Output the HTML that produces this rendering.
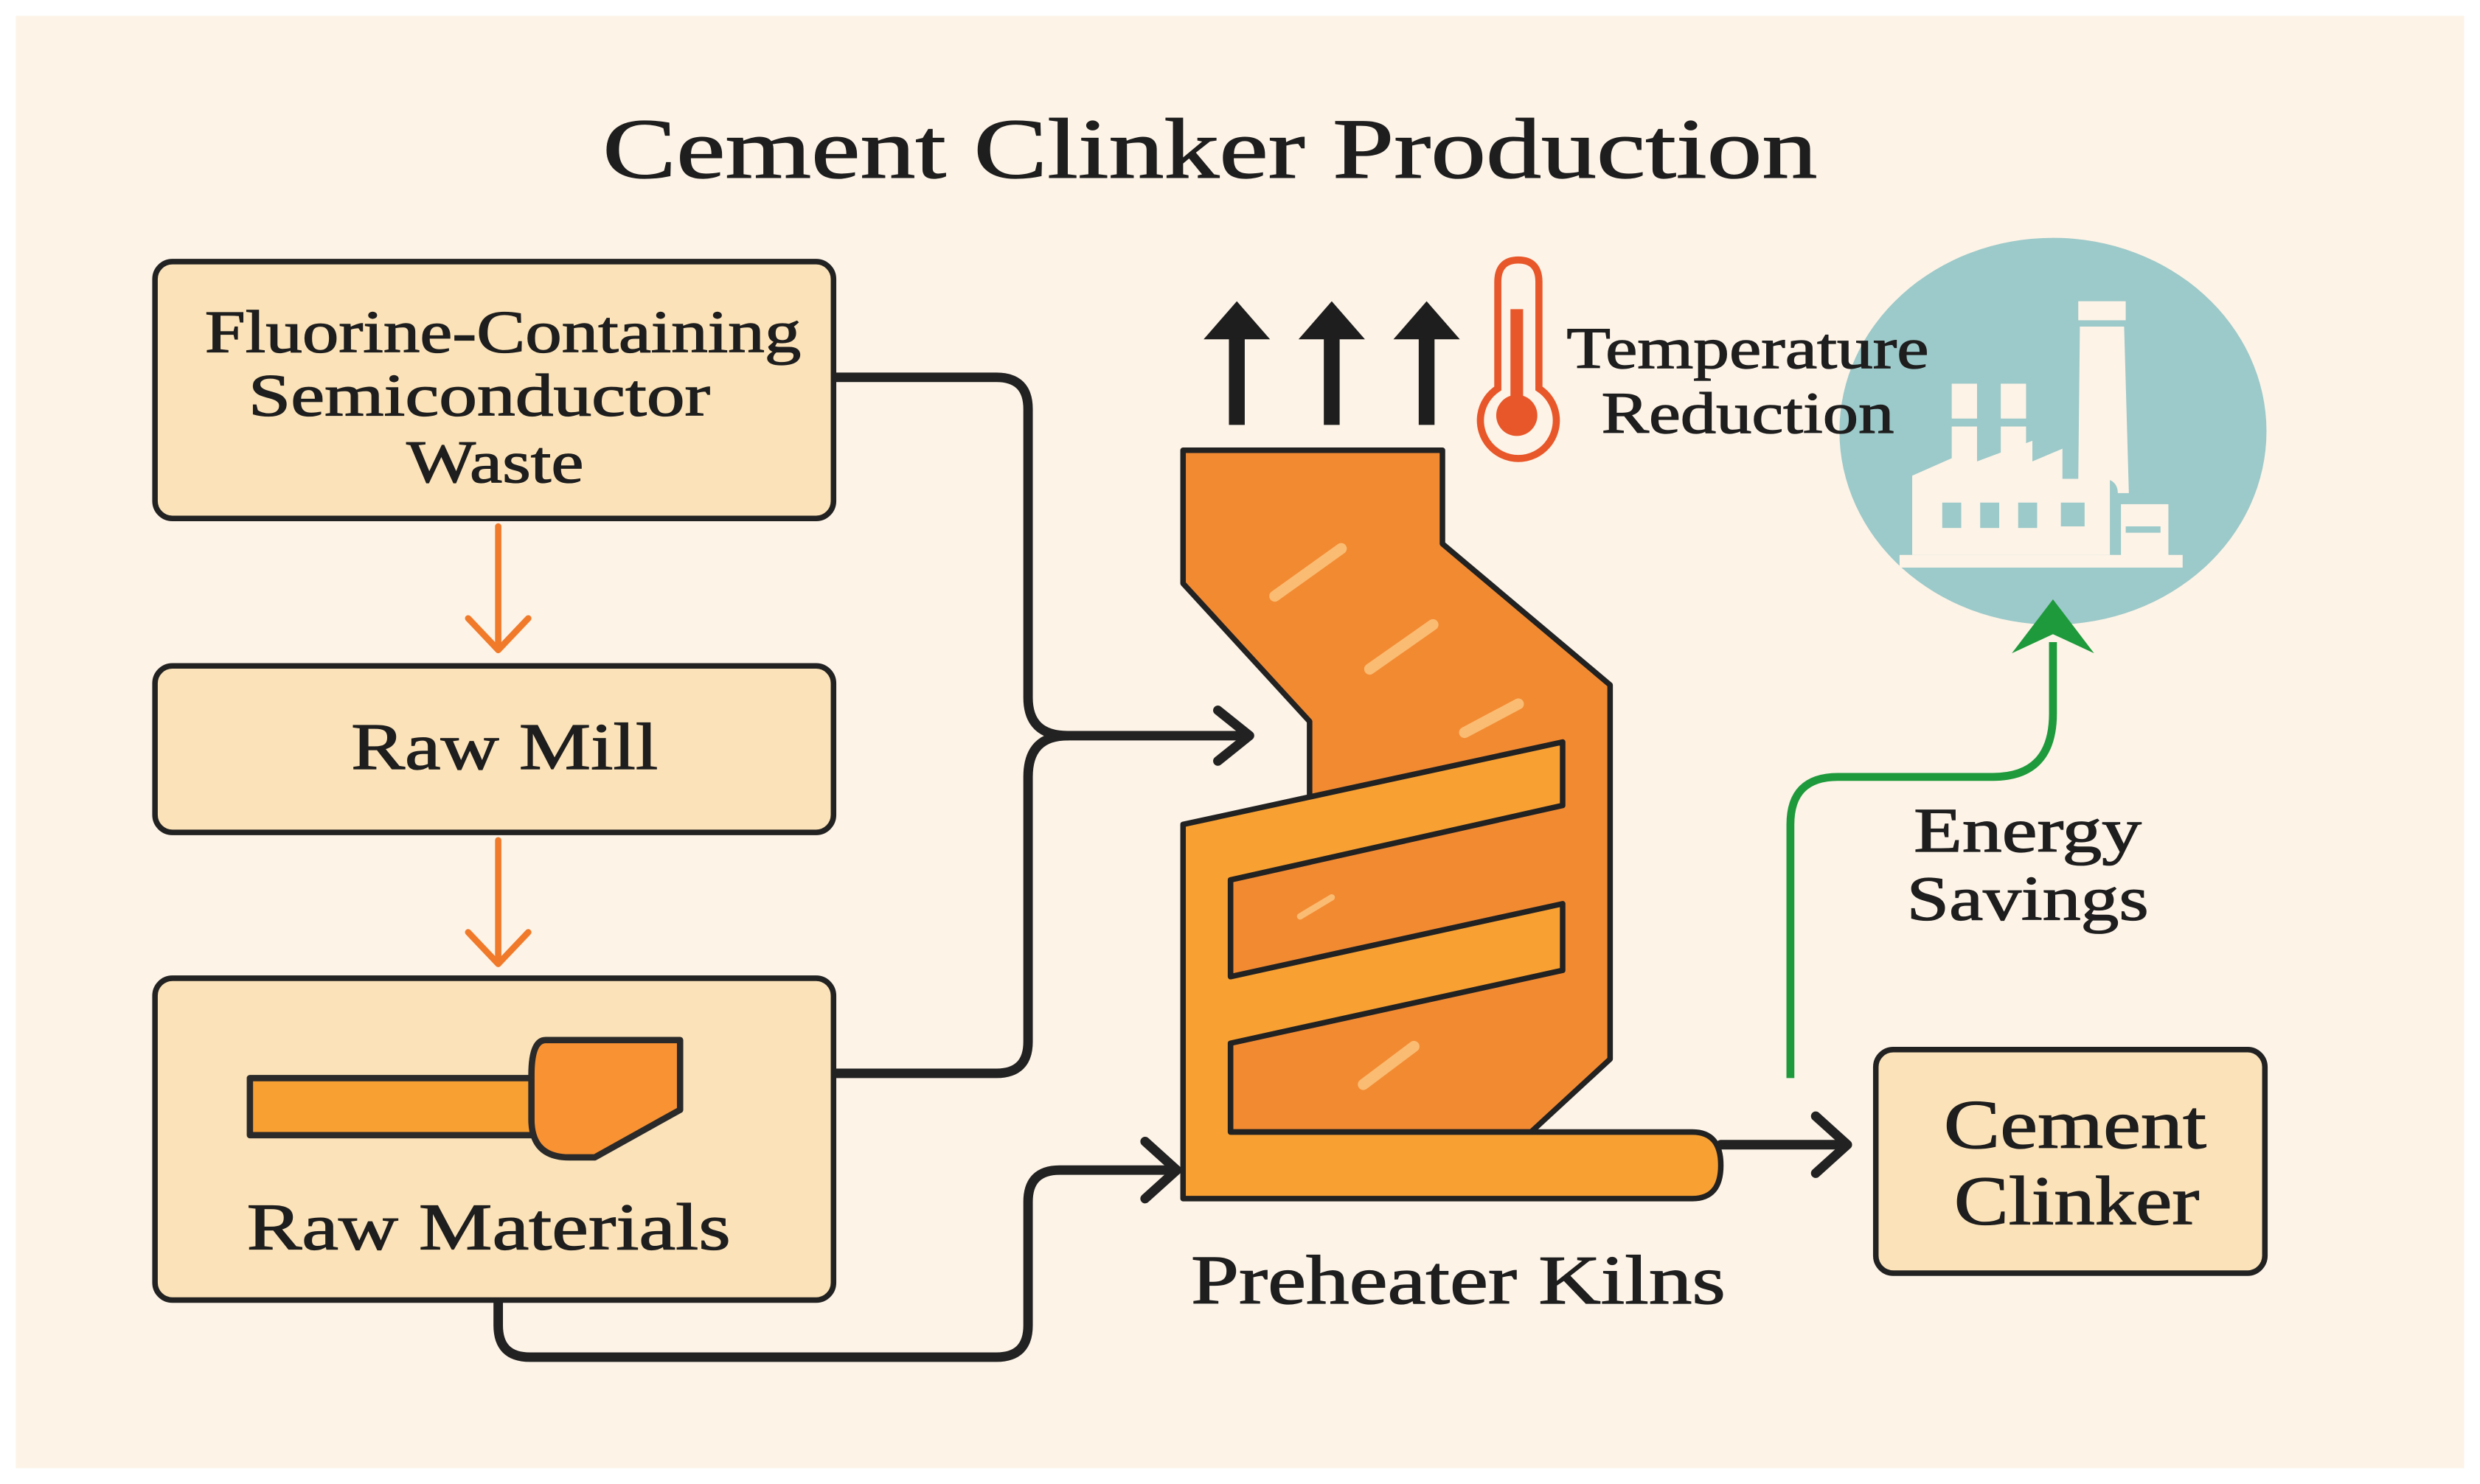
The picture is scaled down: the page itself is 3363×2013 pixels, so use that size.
<!DOCTYPE html>
<html><head><meta charset="utf-8"><style>html,body{margin:0;padding:0;background:#fff}svg{display:block}</style></head>
<body>
<svg width="3363" height="2013" viewBox="0 0 1568 936" preserveAspectRatio="none" xmlns="http://www.w3.org/2000/svg" font-family="'Liberation Serif', serif" fill="#1e1e1e">
<rect x="0" y="0" width="1568" height="936" fill="#ffffff"/>
<rect x="10" y="10" width="1548" height="916" fill="#fdf3e7"/>

<!-- circle with factory -->
<ellipse cx="1298" cy="272" rx="135" ry="122" fill="#9cc9c9"/>
<g fill="#fdf3e7">
<rect x="1201" y="350" width="179" height="8"/>
<path d="M1209,350 V300 L1250,282 V291 L1285,278 V291 L1304,283 V302 L1334,302 V350 Z"/>
<rect x="1234" y="242" width="16" height="22"/><rect x="1234" y="269" width="16" height="22"/>
<rect x="1265" y="242" width="16" height="22"/><rect x="1265" y="269" width="16" height="22"/>
<rect x="1314" y="190" width="30" height="12"/>
<path d="M1315,206 H1343 L1346,311 H1339 Q1339,304 1332,302 H1314 Z"/>
<rect x="1341" y="318" width="30" height="34"/>
</g>
<g fill="#9cc9c9">
<rect x="1228" y="317" width="12" height="16"/><rect x="1252" y="317" width="12" height="16"/><rect x="1276" y="317" width="12" height="16"/><rect x="1303" y="317" width="15" height="15"/>
<rect x="1344" y="332" width="22" height="4"/>
</g>

<text x="765" y="112" font-size="54" text-anchor="middle" textLength="768" lengthAdjust="spacingAndGlyphs" stroke="#1e1e1e" stroke-width="0.6">Cement Clinker Production</text>

<!-- connectors (black) -->
<g fill="none" stroke="#222" stroke-width="6" stroke-linecap="round" stroke-linejoin="round">
<path d="M527,238 H630 Q650,238 650,258 V440 Q650,464 675,464 H788"/>
<path d="M430,677 H630 Q650,677 650,657 V490 Q650,464 675,464"/>
<path d="M770,448 L790,464 L770,480"/>
<path d="M315,822 V836 Q315,856 335,856 H630 Q650,856 650,836 V758 Q650,738 670,738 H742"/>
<path d="M724,720 L744,738 L724,756"/>
<path d="M1088,722 H1166"/>
<path d="M1148,704 L1168,722 L1148,740"/>
</g>

<!-- boxes -->
<g fill="#fbe2b8" stroke="#222" stroke-width="3.5">
<rect x="98" y="165" width="429" height="162" rx="11"/>
<rect x="98" y="420" width="429" height="105" rx="11"/>
<rect x="98" y="617" width="429" height="203" rx="11"/>
<rect x="1186" y="662" width="246" height="141" rx="11"/>
</g>
<g font-size="38" text-anchor="middle" stroke="#1e1e1e" stroke-width="0.6">
<text x="318" y="222" textLength="377" lengthAdjust="spacingAndGlyphs">Fluorine-Containing</text>
<text x="303" y="262" textLength="292" lengthAdjust="spacingAndGlyphs">Semiconductor</text>
<text x="313" y="304" textLength="112" lengthAdjust="spacingAndGlyphs">Waste</text>
<text x="319" y="485" font-size="42" textLength="194" lengthAdjust="spacingAndGlyphs">Raw Mill</text>
<text x="309" y="788" font-size="42" textLength="306" lengthAdjust="spacingAndGlyphs">Raw Materials</text>
<text x="1312" y="724" font-size="44" textLength="166" lengthAdjust="spacingAndGlyphs">Cement</text>
<text x="1313" y="772" font-size="44" textLength="155" lengthAdjust="spacingAndGlyphs">Clinker</text>
<text x="922" y="822" font-size="44" textLength="338" lengthAdjust="spacingAndGlyphs">Preheater Kilns</text>
<text x="1105" y="232" font-size="37" textLength="229" lengthAdjust="spacingAndGlyphs">Temperature</text>
<text x="1105" y="273" font-size="37" textLength="185" lengthAdjust="spacingAndGlyphs">Reduction</text>
<text x="1282" y="537" font-size="40" textLength="144" lengthAdjust="spacingAndGlyphs">Energy</text>
<text x="1282" y="580" font-size="40" textLength="153" lengthAdjust="spacingAndGlyphs">Savings</text>
</g>

<!-- orange arrows -->
<g fill="none" stroke="#f07a2a" stroke-width="4" stroke-linecap="round" stroke-linejoin="round">
<path d="M315,332 V408"/><path d="M296,390 L315,410 L334,390"/>
<path d="M315,530 V606"/><path d="M296,588 L315,608 L334,588"/>
</g>

<!-- raw materials device -->
<g stroke="#2a2a2a" stroke-width="4" stroke-linejoin="round">
<rect x="158" y="680" width="180" height="36" fill="#f9a033"/>
<path d="M345,656 H430 V700 L376,730 H360 Q336,730 336,706 V678 Q336,656 345,656 Z" fill="#f89232"/>
</g>

<!-- up arrows -->
<g fill="#1e1e1e">
<rect x="777" y="210" width="10" height="58"/><path d="M761,214 L782,190 L803,214 Z"/>
<rect x="837" y="210" width="10" height="58"/><path d="M821,214 L842,190 L863,214 Z"/>
<rect x="897" y="210" width="10" height="58"/><path d="M881,214 L902,190 L923,214 Z"/>
</g>

<!-- thermometer -->
<g fill="none" stroke="#e8572a" stroke-width="4.5">
<path d="M947,245 V178 Q947,164 960,164 Q973,164 973,178 V245 A24,24 0 1 1 947,245 Z"/>
</g>
<rect x="955" y="195" width="8" height="60" fill="#e8572a"/>
<circle cx="959" cy="262" r="13" fill="#e8572a"/>

<!-- kiln -->
<g stroke="#222" stroke-width="3.5" stroke-linejoin="round">
<path d="M748,284 H912 V343 L1018,432 V668 L968,714 H778 V520 L828,505 V455 L748,368 Z" fill="#f28a32"/>
<path d="M748,520 L988,468 V508 L778,555 V616 L988,570 V612 L778,658 V714 H1070 Q1088,714 1088,735 Q1088,756 1070,756 H748 Z" fill="#f9a033"/>
</g>
<g stroke="#fbc27a" stroke-width="7" stroke-linecap="round" opacity="0.9">
<line x1="806" y1="376" x2="848" y2="346"/>
<line x1="866" y1="422" x2="906" y2="394"/>
<line x1="926" y1="462" x2="960" y2="444"/>
<line x1="822" y1="578" x2="842" y2="566" stroke-width="4"/>
<line x1="862" y1="684" x2="894" y2="660"/>
</g>

<!-- green arrow -->
<path d="M1132,680 V520 Q1132,490 1162,490 H1260 Q1298,490 1298,450 V405" fill="none" stroke="#1e9a3c" stroke-width="5"/>
<path d="M1272,412 L1298,378 L1324,412 L1298,400 Z" fill="#1e9a3c"/>
</svg>
</body></html>
